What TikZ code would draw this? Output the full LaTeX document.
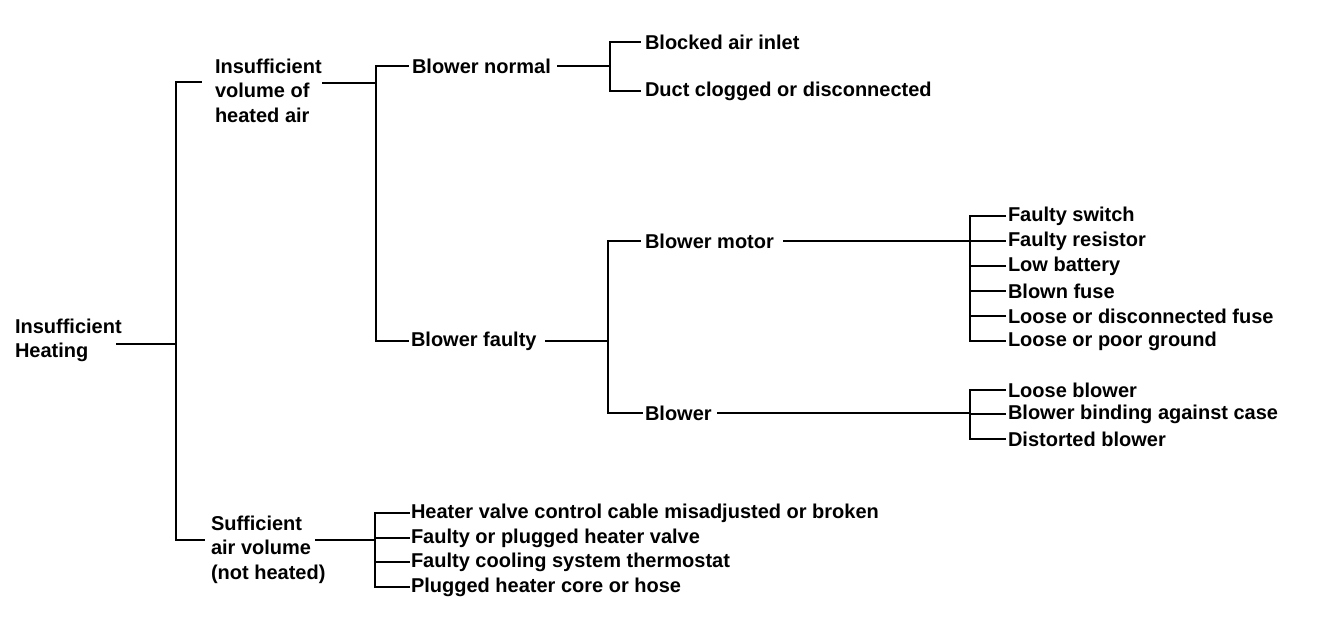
\documentclass[tikz,border=0pt]{standalone}
\usepackage{fontspec}
\setmainfont{Liberation Sans}
\begin{document}
\begin{tikzpicture}[x=1pt,y=-1pt,
  lbl/.style={anchor=west,inner sep=0pt,outer sep=0pt,align=left,
    font=\fontsize{20}{24.5}\selectfont\bfseries},
  conn/.style={line width=2.8pt,line cap=rect}]
\fill[white] (0,0) rectangle (1344,620);
\useasboundingbox (0,0) rectangle (1344,620);
% nodes
\node[lbl] (ih) at (15,340.5) {Insufficient\\Heating};
\node[lbl] (iv) at (215,90.5) {Insufficient\\volume of\\heated air};
\node[lbl] (sa) at (211,549.5) {Sufficient\\air volume\\(not heated)};
\node[lbl] (bn) at (412,66) {Blower normal};
\node[lbl] (bf) at (411,341) {Blower faulty};
\node[lbl] (ba) at (645,42) {Blocked air inlet};
\node[lbl] (dc) at (645,91) {Duct clogged or disconnected};
\node[lbl] (bm) at (645,241) {Blower motor};
\node[lbl] (bl) at (645,413) {Blower};
\node[lbl] (f1) at (1008,216) {Faulty switch};
\node[lbl] (f2) at (1008,241) {Faulty resistor};
\node[lbl] (f3) at (1008,266) {Low battery};
\node[lbl] (f4) at (1008,291) {Blown fuse};
\node[lbl] (f5) at (1008,316) {Loose or disconnected fuse};
\node[lbl] (f6) at (1008,341) {Loose or poor ground};
\node[lbl] (g1) at (1008,390) {Loose blower};
\node[lbl] (g2) at (1008,414) {Blower binding against case};
\node[lbl] (g3) at (1008,439) {Distorted blower};
\node[lbl] (h1) at (411,513) {Heater valve control cable misadjusted or broken};
\node[lbl] (h2) at (411,538) {Faulty or plugged heater valve};
\node[lbl] (h3) at (411,562) {Faulty cooling system thermostat};
\node[lbl] (h4) at (411,587) {Plugged heater core or hose};
% junction columns and free ends
\coordinate (j0) at (176,0);
\coordinate (j1) at (376,0);
\coordinate (j2) at (610,0);
\coordinate (j3) at (608,0);
\coordinate (j4) at (970,0);
\coordinate (j5) at (375,0);
\coordinate (t0) at (201,82);
\coordinate (b0) at (204,540);
% level 0
\draw[conn] ([xshift=-4pt,yshift=-3.5pt]ih.east) -- ([yshift=-3.5pt]ih.east -| j0);
\draw[conn] (t0) -- (t0 -| j0) -- (b0 -| j0) -- (b0);
% level 1: insufficient volume
\draw[conn] ([xshift=2pt,yshift=7.5pt]iv.east) -- ([yshift=7.5pt]iv.east -| j1);
\draw[conn] ([xshift=-4pt]bn.west) -- (bn.west -| j1) -- (bf.west -| j1) -- ([xshift=-3pt]bf.west);
% level 1: sufficient volume
\draw[conn] ([xshift=-9pt,yshift=9.5pt]sa.east) -- ([yshift=9.5pt]sa.east -| j5);
\draw[conn] ([xshift=-2pt]h1.west) -- (h1.west -| j5) -- (h4.west -| j5) -- ([xshift=-2pt]h4.west);
\draw[conn] (h2.west -| j5) -- ([xshift=-2pt]h2.west);
\draw[conn] (h3.west -| j5) -- ([xshift=-2pt]h3.west);
% blower normal
\draw[conn] ([xshift=7pt]bn.east) -- (bn.east -| j2);
\draw[conn] ([xshift=-5pt]ba.west) -- (ba.west -| j2) -- (dc.west -| j2) -- ([xshift=-5pt]dc.west);
% blower faulty
\draw[conn] ([xshift=10pt]bf.east) -- (bf.east -| j3);
\draw[conn] ([xshift=-5pt]bm.west) -- (bm.west -| j3) -- (bl.west -| j3) -- ([xshift=-3pt]bl.west);
% blower motor
\draw[conn] ([xshift=10pt]bm.east) -- (bm.east -| j4);
\draw[conn] ([xshift=-3pt]f1.west) -- (f1.west -| j4) -- (f6.west -| j4) -- ([xshift=-3pt]f6.west);
\foreach \n in {f2,f3,f4,f5} \draw[conn] (\n.west -| j4) -- ([xshift=-3pt]\n.west);
% blower
\draw[conn] ([xshift=7pt]bl.east) -- (bl.east -| j4);
\draw[conn] ([xshift=-3pt]g1.west) -- (g1.west -| j4) -- (g3.west -| j4) -- ([xshift=-3pt]g3.west);
\draw[conn] (g2.west -| j4) -- ([xshift=-3pt]g2.west);
\end{tikzpicture}
\end{document}
